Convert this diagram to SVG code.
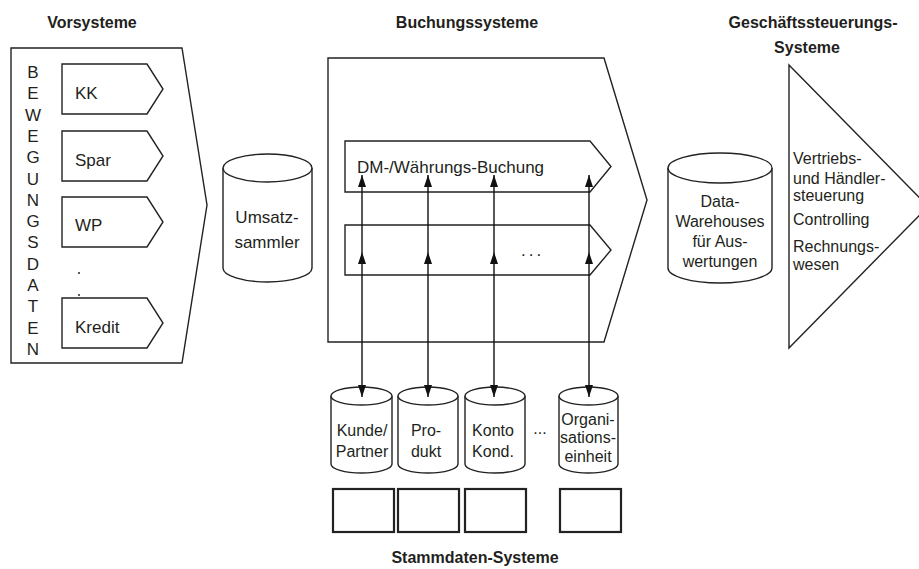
<svg xmlns="http://www.w3.org/2000/svg" width="919" height="569" viewBox="0 0 919 569">
<style>
.sh{fill:#fff;stroke:#222;stroke-width:1.4;stroke-linejoin:miter}
.rb{fill:#fff;stroke:#222;stroke-width:2.2}
.t{font-family:"Liberation Sans",Arial,sans-serif;font-size:17px;fill:#231f20}
.s{font-size:16px}
.m{font-size:16px}
.c{text-anchor:middle}
.h{font-family:"Liberation Sans",Arial,sans-serif;font-size:16px;font-weight:bold;fill:#231f20;text-anchor:middle}
.cn{fill:none;stroke:#111;stroke-width:1.4}
</style>
<defs>
<marker id="ah" markerUnits="userSpaceOnUse" markerWidth="12" markerHeight="9" refX="12" refY="4" orient="auto-start-reverse">
<path d="M0,0 L12,4 L0,8 z" fill="#111"/>
</marker>
</defs>
<rect width="919" height="569" fill="#fff"/>

<g id="titles">
<text class="h" x="92" y="28">Vorsysteme</text>
<text class="h" x="467" y="28">Buchungssysteme</text>
<text class="h" x="813" y="28">Geschäftssteuerungs-</text>
<text class="h" x="807" y="53">Systeme</text>
<text class="h" x="475" y="563">Stammdaten-Systeme</text>
</g>

<g id="vorsysteme">
<path class="sh" d="M11,48 H182 L207,205 L182,363 H11 Z"/>
<text class="t c" x="33"><tspan x="33" y="78">B</tspan><tspan x="33" y="99.3">E</tspan><tspan x="33" y="120.6">W</tspan><tspan x="33" y="141.9">E</tspan><tspan x="33" y="163.2">G</tspan><tspan x="33" y="184.5">U</tspan><tspan x="33" y="205.8">N</tspan><tspan x="33" y="227.1">G</tspan><tspan x="33" y="248.4">S</tspan><tspan x="33" y="269.7">D</tspan><tspan x="33" y="291">A</tspan><tspan x="33" y="312.3">T</tspan><tspan x="33" y="333.6">E</tspan><tspan x="33" y="354.9">N</tspan></text>
</g>
<g id="kk"><path class="sh" d="M62,64 H147 L163,89 L147,114 H62 Z"/><text class="t" x="75" y="99">KK</text></g>
<g id="spar"><path class="sh" d="M62,131 H147 L163,156 L147,181 H62 Z"/><text class="t" x="75" y="166">Spar</text></g>
<g id="wp"><path class="sh" d="M62,197 H147 L163,222 L147,247 H62 Z"/><text class="t" x="75" y="231">WP</text></g>
<g id="dots"><circle cx="79" cy="273" r="1" fill="#222"/><circle cx="79" cy="295" r="1" fill="#222"/></g>
<g id="kredit"><path class="sh" d="M62,298 H147 L163,323 L147,348 H62 Z"/><text class="t" x="75" y="333">Kredit</text></g>

<g id="umsatzsammler">
<path class="sh" d="M223,168 V268 A44.5,14 0 0 0 312,268 V168"/>
<ellipse class="sh" cx="267.5" cy="168" rx="44.5" ry="14"/>
<text class="t c" x="267" y="223">Umsatz-</text>
<text class="t c" x="267" y="248">sammler</text>
</g>

<g id="buchungssysteme">
<path class="sh" d="M328,58 H604 L647,200 L604,342 H328 Z"/>
</g>
<g id="dm-buchung">
<path class="sh" d="M345,141 H590 L611,166.5 L590,192 H345 Z"/>
<text class="t" x="357" y="173">DM-/Währungs-Buchung</text>
</g>
<g id="weitere-buchung">
<path class="sh" d="M345,225 H590 L611,250 L590,275 H345 Z"/>
<text class="t" x="521" y="256" letter-spacing="3">...</text>
</g>

<g id="data-warehouse">
<path class="sh" d="M668,168 V268 A52,15 0 0 0 772,268 V168"/>
<ellipse class="sh" cx="720" cy="168" rx="52" ry="15"/>
<text class="t m c" x="720" y="207">Data-</text>
<text class="t m c" x="720" y="227">Warehouses</text>
<text class="t m c" x="720" y="247">für Aus-</text>
<text class="t m c" x="720" y="267">wertungen</text>
</g>

<g id="geschaeftssteuerung">
<path class="sh" d="M789,65 L928,206.5 L789,348 Z"/>
<text class="t m" x="793" y="164">Vertriebs-</text>
<text class="t m" x="793" y="184">und Händler-</text>
<text class="t m" x="793" y="201">steuerung</text>
<text class="t m" x="793" y="225">Controlling</text>
<text class="t m" x="793" y="252">Rechnungs-</text>
<text class="t m" x="793" y="270">wesen</text>
</g>

<g id="kunde">
<path class="sh" d="M331,396 V464 A30.5,9 0 0 0 392,464 V396"/>
<ellipse class="sh" cx="361.5" cy="396" rx="30.5" ry="9"/>
<text class="t s c" x="362" y="436">Kunde/</text>
<text class="t s c" x="362" y="457">Partner</text>
<rect class="rb" x="333" y="489" width="61" height="43"/>
</g>
<g id="produkt">
<path class="sh" d="M398,396 V464 A30,9 0 0 0 458,464 V396"/>
<ellipse class="sh" cx="428" cy="396" rx="30" ry="9"/>
<text class="t s c" x="426" y="436">Pro-</text>
<text class="t s c" x="426" y="457">dukt</text>
<rect class="rb" x="398" y="489" width="61" height="43"/>
</g>
<g id="konto">
<path class="sh" d="M465,396 V464 A30,9 0 0 0 525,464 V396"/>
<ellipse class="sh" cx="495" cy="396" rx="30" ry="9"/>
<text class="t s c" x="493" y="436">Konto</text>
<text class="t s c" x="493" y="457">Kond.</text>
<rect class="rb" x="465" y="489" width="61" height="43"/>
</g>
<text class="t s c" x="540" y="434">...</text>
<g id="organisationseinheit">
<path class="sh" d="M559,396 V464 A29.5,9 0 0 0 618,464 V396"/>
<ellipse class="sh" cx="588.5" cy="396" rx="29.5" ry="9"/>
<text class="t s c" x="588" y="425">Organi-</text>
<text class="t s c" x="588" y="443">sations-</text>
<text class="t s c" x="588" y="462">einheit</text>
<rect class="rb" x="560" y="489" width="61" height="43"/>
</g>

<g id="connectors">
<path class="cn" d="M362,397 V252 V175" marker-start="url(#ah)" marker-mid="url(#ah)" marker-end="url(#ah)"/>
<path class="cn" d="M428,397 V252 V175" marker-start="url(#ah)" marker-mid="url(#ah)" marker-end="url(#ah)"/>
<path class="cn" d="M494,397 V252 V175" marker-start="url(#ah)" marker-mid="url(#ah)" marker-end="url(#ah)"/>
<path class="cn" d="M589,397 V252 V175" marker-start="url(#ah)" marker-mid="url(#ah)" marker-end="url(#ah)"/>
</g>
</svg>
